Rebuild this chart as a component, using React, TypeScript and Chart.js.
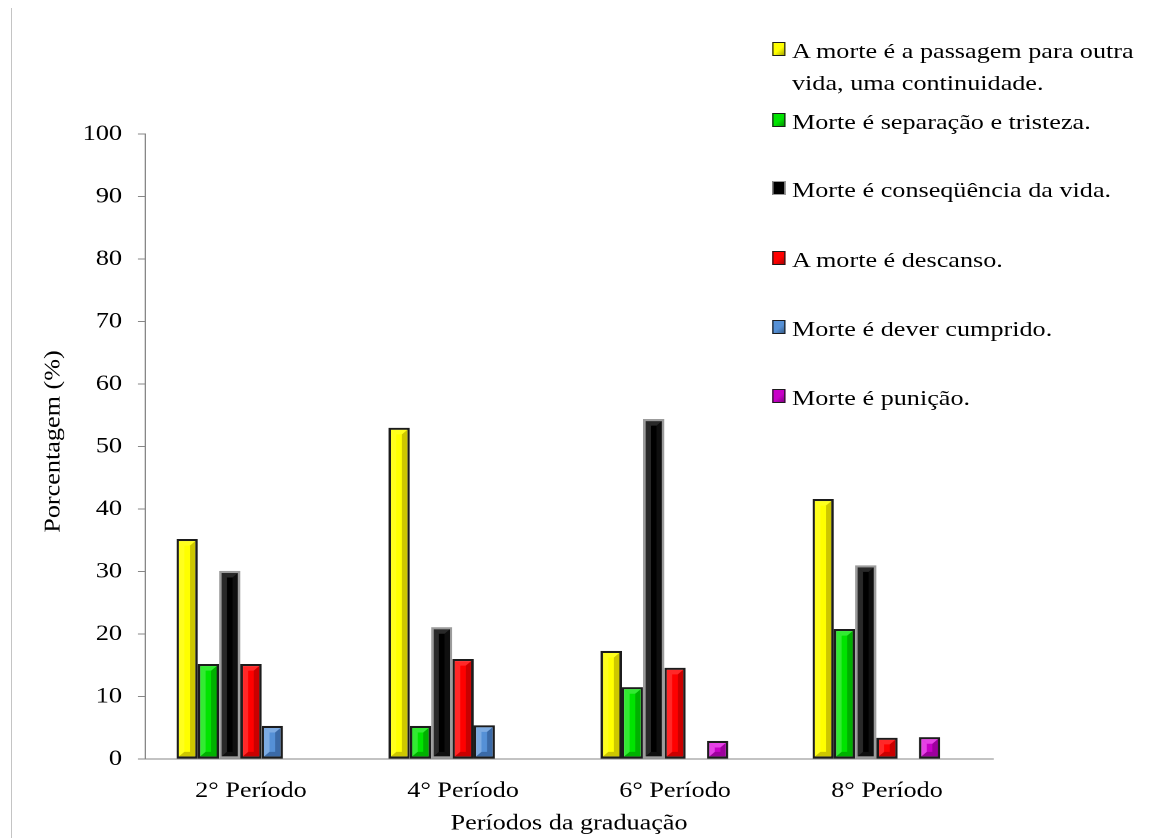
import React, { useEffect, useRef } from "react";
import { Chart, registerables } from "chart.js";

Chart.register(...registerables);

// The whole figure is drawn in a narrower logical space and widened with scaleX,
// which gives the wide serif lettering of the original slide.
const STRETCH = 1.19;
const PAGE_W = 1150;
const PAGE_H = 838;
const W = PAGE_W / STRETCH;

const FONT_FAMILY = '"Liberation Serif", "Times New Roman", Times, serif';
const FONT_SIZE = 22;

const categories = ["2° Período", "4° Período", "6° Período", "8° Período"];

const seriesLabels = [
  "A morte é a passagem para outra vida, uma continuidade.",
  "Morte é separação e tristeza.",
  "Morte é conseqüência da vida.",
  "A morte é descanso.",
  "Morte é dever cumprido.",
  "Morte é punição.",
];

const passagem = [35.2, 53.0, 17.3, 41.6];
const separacao = [15.2, 5.3, 11.5, 20.8];
const consequencia = [30.1, 21.1, 54.4, 31.0];
const descanso = [15.2, 16.0, 14.6, 3.4];
const dever = [5.3, 5.4, null, null];
const punicao = [null, null, 2.9, 3.5];

const seriesValues = [passagem, separacao, consequencia, descanso, dever, punicao];

const seriesColors = ["#FFFF00", "#00E400", "#000000", "#FF0000", "#5590D6", "#C800C8"];
const seriesBorders = ["#1c1c1c", "#1c1c1c", "#9c9c9c", "#1c1c1c", "#1c1c1c", "#1c1c1c"];
const seriesLight = [
  "rgba(255,255,160,0.18)",
  "rgba(200,255,200,0.25)",
  "rgba(255,255,255,0.16)",
  "rgba(255,200,200,0.2)",
  "rgba(220,235,255,0.3)",
  "rgba(255,120,255,0.55)",
];
const seriesDark = [
  "rgba(90,70,0,0.3)",
  "rgba(0,60,0,0.3)",
  "rgba(255,255,255,0.06)",
  "rgba(80,0,0,0.3)",
  "rgba(0,20,60,0.3)",
  "rgba(60,0,60,0.3)",
];

const yTicks = [0, 10, 20, 30, 40, 50, 60, 70, 80, 90, 100];
const yTitle = "Porcentagem (%)";
const xTitle = "Períodos da graduação";

const AXIS_COLOR = "#878787";

// Soft bevel on each bar: light top/left faces, darker right/bottom faces.
const bevelPlugin = {
  id: "bevel",
  afterDatasetsDraw(chart: any) {
    const ctx = chart.ctx;
    chart.data.datasets.forEach((ds: any, i: number) => {
      if (i >= seriesValues.length) return;
      const meta = chart.getDatasetMeta(i);
      meta.data.forEach((bar: any, j: number) => {
        if (ds.data[j] == null) return;
        const { x, y, base, width } = bar.getProps(["x", "y", "base", "width"], true);
        const bw = 2.1;
        const l = x - width / 2 + bw;
        const r = x + width / 2 - bw;
        const t = Math.min(y, base) + bw;
        const b = Math.max(y, base) - bw;
        const d = Math.max(0, Math.min(4.5, (r - l) / 2, (b - t) / 2));
        const poly = (pts: number[][], color: string) => {
          ctx.beginPath();
          ctx.moveTo(pts[0][0], pts[0][1]);
          for (let k = 1; k < pts.length; k++) ctx.lineTo(pts[k][0], pts[k][1]);
          ctx.closePath();
          ctx.fillStyle = color;
          ctx.fill();
        };
        ctx.save();
        poly([[l, t], [l + d, t + d], [l + d, b - d], [l, b]], seriesLight[i]);
        poly([[l, t], [r, t], [r - d, t + d], [l + d, t + d]], seriesLight[i]);
        poly([[r, t], [r, b], [r - d, b - d], [r - d, t + d]], seriesDark[i]);
        poly([[l, b], [r, b], [r - d, b - d], [l + d, b - d]], seriesDark[i]);
        ctx.restore();
      });
    });
  },
};

// Vertical axis title, widened along its own reading direction like the other labels.
const yTitlePlugin = {
  id: "yTitleWide",
  afterDraw(chart: any) {
    const { ctx, chartArea } = chart;
    const cx = 54 / STRETCH;
    const cy = (chartArea.top + chartArea.bottom) / 2 - 5;
    ctx.save();
    ctx.translate(cx, cy);
    ctx.rotate(-Math.PI / 2);
    ctx.scale(STRETCH, 1 / STRETCH);
    ctx.font = `${FONT_SIZE}px ${FONT_FAMILY}`;
    ctx.textAlign = "center";
    ctx.textBaseline = "middle";
    ctx.fillStyle = "#000";
    ctx.fillText(yTitle, 0, 0);
    ctx.restore();
  },
};

function BarChart() {
  const ref = useRef<HTMLCanvasElement>(null);

  useEffect(() => {
    const font = { family: FONT_FAMILY, size: FONT_SIZE };
    const chart = new Chart(ref.current as HTMLCanvasElement, {
      type: "bar",
      data: {
        labels: categories,
        datasets: [
          ...seriesValues.map((vals, i) => ({
            label: seriesLabels[i],
            data: vals,
            backgroundColor: seriesColors[i],
            borderColor: seriesBorders[i],
            borderWidth: 2.1,
            borderSkipped: false as any,
          })),
          // empty seventh slot, as in the original grouping
          { label: "", data: categories.map(() => null) },
        ],
      },
      options: {
        animation: false,
        responsive: true,
        maintainAspectRatio: false,
        devicePixelRatio: 2,
        events: [],
        layout: {
          padding: { left: 0, top: 134, right: W - 993 / STRETCH, bottom: 0 },
        },
        datasets: {
          bar: { barPercentage: 1, categoryPercentage: 0.703 },
        },
        plugins: {
          legend: { display: false },
          tooltip: { enabled: false },
        },
        scales: {
          x: {
            grid: { display: true, drawOnChartArea: false, drawTicks: false },
            border: { display: true, color: AXIS_COLOR, width: 1 },
            ticks: { color: "#000", font, padding: 19, maxRotation: 0 },
            title: {
              display: true,
              text: xTitle,
              color: "#000",
              font,
              padding: { top: 0, bottom: 1 },
            },
            afterFit: (s: any) => {
              s.height = PAGE_H - 759;
            },
          },
          y: {
            min: 0,
            max: 100,
            afterBuildTicks: (s: any) => {
              s.ticks = yTicks.map((v) => ({ value: v }));
            },
            ticks: { color: "#000", font, padding: 13.4 },
            grid: {
              display: true,
              drawOnChartArea: false,
              drawTicks: true,
              tickLength: 5.9,
              color: AXIS_COLOR,
            },
            border: { display: true, color: AXIS_COLOR, width: 1 },
            title: { display: false, text: yTitle },
            afterFit: (s: any) => {
              s.width = 145 / STRETCH;
            },
          },
        },
      },
      plugins: [bevelPlugin, yTitlePlugin],
    } as any);
    return () => chart.destroy();
  }, []);

  return (
    <div style={{ position: "absolute", left: 0, top: 0, width: W, height: PAGE_H }}>
      <canvas ref={ref} />
    </div>
  );
}

// Legend rows: text baselines of each entry, in page pixels
const legendBaselines = [58, 129, 197, 267, 336, 405];

function Legend() {
  const markerLeft = 772 / STRETCH;
  const textLeft = 792 / STRETCH;
  const lineH = 32;
  return (
    <>
      {seriesLabels.map((label, i) => {
        const top = legendBaselines[i] - 23.4;
        return (
          <div key={label} style={{ position: "absolute", left: 0, top, width: W, height: lineH }}>
            <div
              style={{
                position: "absolute",
                left: markerLeft,
                top: lineH / 2 - 8.5,
                width: 11.5,
                height: 14,
                boxSizing: "border-box",
                border: "1.8px solid",
                borderColor: i === 2 ? "#9c9c9c" : "#1c1c1c",
                background: `linear-gradient(135deg, ${seriesColors[i]} 0%, ${seriesColors[i]} 55%, rgba(0,0,0,0.35) 100%), ${seriesColors[i]}`,
              }}
            />
            <div
              style={{
                position: "absolute",
                left: textLeft,
                top: 0,
                width: W - textLeft,
                fontFamily: FONT_FAMILY,
                fontSize: FONT_SIZE,
                lineHeight: `${lineH}px`,
                color: "#000",
                whiteSpace: "normal",
              }}
            >
              {label}
            </div>
          </div>
        );
      })}
    </>
  );
}

export default function App() {
  return (
    <div
      style={{
        position: "absolute",
        left: 0,
        top: 0,
        width: PAGE_W,
        height: PAGE_H,
        background: "#fff",
        overflow: "hidden",
      }}
    >
      <div style={{ position: "absolute", left: 11, top: 8, width: 1, bottom: 0, background: "#c4c4c4" }} />
      <div
        style={{
          position: "absolute",
          left: 0,
          top: 0,
          width: W,
          height: PAGE_H,
          transform: `scaleX(${STRETCH})`,
          transformOrigin: "0 0",
        }}
      >
        <BarChart />
        <Legend />
      </div>
    </div>
  );
}
